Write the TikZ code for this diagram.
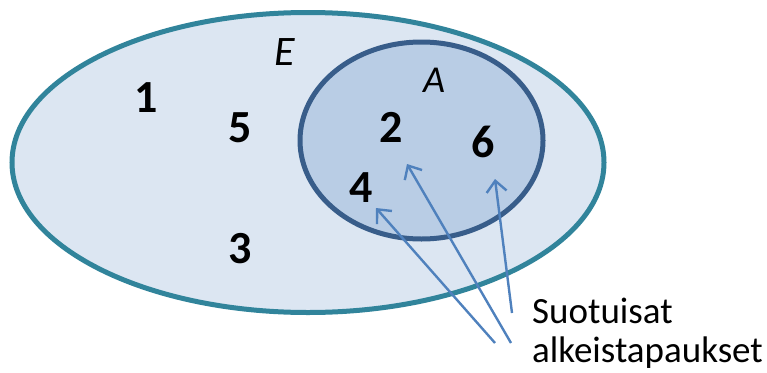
\documentclass[tikz,border=0pt]{standalone}
\usepackage{fontspec}
\setmainfont{Carlito}
\usetikzlibrary{arrows.meta}
\definecolor{outerfill}{HTML}{DCE6F2}
\definecolor{outerline}{HTML}{31849B}
\definecolor{innerfill}{HTML}{B9CDE5}
\definecolor{innerline}{HTML}{385D8A}
\definecolor{arrowc}{HTML}{4F81BD}
\begin{document}
\begin{tikzpicture}[x=1pt,y=-1pt,
  num/.style={anchor=base,inner sep=0pt,font=\fontsize{46}{50}\selectfont\bfseries},
  setlbl/.style={anchor=base west,inner sep=0pt,font=\fontsize{42}{46}\selectfont\itshape},
  pointer/.style={draw=arrowc,line width=2.4pt,-{Straight Barb[length=11pt,width=20pt,line width=2.4pt]}},
  txt/.style={anchor=base west,inner sep=0pt,font=\fontsize{37}{40}\selectfont}]
\useasboundingbox (0,0) rectangle (767,372);
\draw[fill=outerfill,draw=outerline,line width=5pt] (308,162.5) ellipse [x radius=296, y radius=150];
\draw[fill=innerfill,draw=innerline,line width=5pt] (421.5,140.5) ellipse [x radius=121.5, y radius=98.5];
\node[num] (n1) at (146,112) {1};
\node[num] (n5) at (240,142) {5};
\node[num] (n3) at (240,263) {3};
\node[num] (n2) at (391,142) {2};
\node[num] (n6) at (483,157) {6};
\node[num] (n4) at (361,202) {4};
\node[setlbl] (E) at (274,65) {E};
\node[setlbl,font=\fontsize{38}{42}\selectfont\itshape] (A) at (423,92) {A};
\node[txt] (t1) at (532,323) {Suotuisat};
\node[txt] (t2) at (532,362) {alkeistapaukset};
\coordinate (s4) at (495,343);
\coordinate (s2) at (511,343);
\coordinate (s6) at (512,313);
\coordinate (h4) at (376,208);
\coordinate (h2) at (407,164);
\coordinate (h6) at (495,179);
\draw[pointer] (s4) -- (h4);
\draw[pointer] (s2) -- (h2);
\draw[pointer] (s6) -- (h6);
\end{tikzpicture}
\end{document}
